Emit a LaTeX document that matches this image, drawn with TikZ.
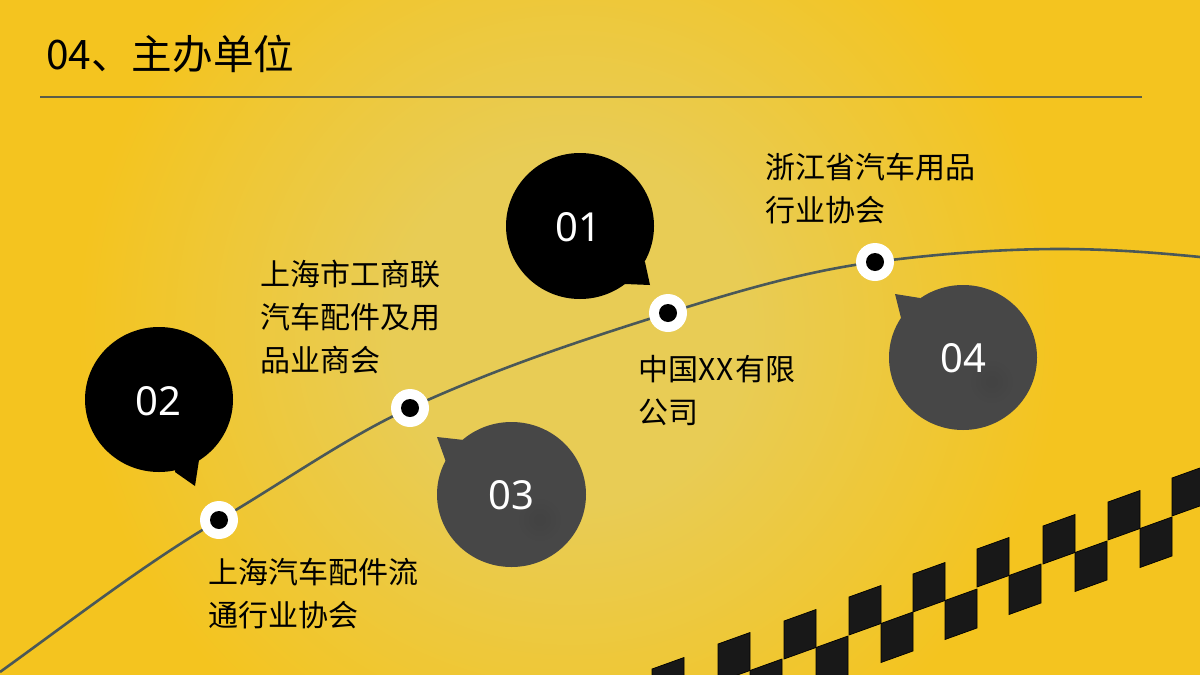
\documentclass[tikz,border=0pt]{standalone}
\usepackage{fontspec}
\setmainfont{Noto Sans CJK SC}
\newfontfamily\numfont{Noto Sans}
\definecolor{bgout}{HTML}{F4C41F}
\definecolor{bgin}{HTML}{E8CC55}
\definecolor{curvec}{HTML}{4A5858}
\definecolor{rulec}{HTML}{5A5C48}
\definecolor{greyb}{HTML}{474747}
\definecolor{checker}{HTML}{181818}
\tikzset{
  x=1pt,y=-1pt,
  dotw/.style={circle,fill=white,minimum size=38pt,inner sep=0pt},
  dotk/.style={circle,fill=black,minimum size=18pt,inner sep=0pt},
  lab/.style={anchor=north west,inner sep=0pt,align=left,text=black,font=\fontsize{30}{43}\selectfont},
  num/.style={text=white,inner sep=0pt,font=\numfont\fontsize{40}{46}\selectfont},
  chk/.style={fill=checker,draw=black,line width=0.7pt}
}
\begin{document}
\begin{tikzpicture}
\useasboundingbox (0,0) rectangle (1200,675);
\fill[bgout] (0,0) rectangle (1200,675);
\begin{scope}
\clip (0,0) rectangle (1200,675);
\foreach \i in {0,...,62}{
  \pgfmathsetmacro{\rr}{490-5*\i}
  \pgfmathsetmacro{\pp}{(\i+1)*100/63}
  \fill[bgin!\pp!bgout] (570,330) circle (\rr);
}
% checker band
\foreach \x/\y in {652/669,718/644,784/621,849/597,913/574,977/549,1043/526,1108/502,1172/478}{
  \fill[chk,draw] (\x,\y) -- ++(32,-11.5) -- ++(0,38) -- ++(-32,11.5) -- cycle;
  \fill[chk,draw] (\x+32,\y+26.5) -- ++(32,-11.5) -- ++(0,39) -- ++(-32,11.5) -- cycle;
}
\end{scope}
% title
\node[anchor=west,inner sep=0pt,font=\fontsize{40.6}{48}\selectfont] (title) at (46,54) {04、主办单位};
\coordinate (ruleL) at (40,97);
\coordinate (ruleR) at (1142,97);
\draw[rulec,line width=1.2pt] (ruleL) -- (ruleR);
% curve
\coordinate (c0) at (0,672);
\coordinate (c1) at (219,520);
\coordinate (c2) at (410,408);
\coordinate (c3) at (668,313);
\coordinate (c4) at (875,262);
\coordinate (c5) at (1060,249);
\coordinate (c6) at (1200,257);
\draw[curvec,line width=2.6pt] (c0)
  .. controls (73,619.4) and (146,562.8) .. (c1)
  .. controls (282.7,482.7) and (346.3,437.3) .. (c2)
  .. controls (496,368.4) and (582,340) .. (c3)
  .. controls (737,291.3) and (806,271) .. (c4)
  .. controls (936.7,254) and (998.3,249) .. (c5)
  .. controls (1106.7,249) and (1153.3,252.3) .. (c6);
% dots
\foreach \n/\p in {a/c1,b/c2,d/c3,e/c4}{
  \node[dotw] (w\n) at (\p) {};
  \node[dotk] (k\n) at (\p) {};
}
% bubbles
\fill[black] (580,226) ellipse [x radius=74,y radius=73];
\fill[black] (645,262) -- (650,285) -- (625,284) -- (600,270) -- cycle;
\node[num] (n1) at (578.5,227) {01};
\fill[black] (159,399.5) ellipse [x radius=74,y radius=72.5];
\fill[black] (175,472) -- (195,486) -- (199,460) -- (180,440) -- cycle;
\node[num] (n2) at (158.5,401) {02};
\fill[greyb] (511.5,494.5) ellipse [x radius=74.5,y radius=72.5];
\fill[greyb] (437,437) -- (464,440) -- (480,460) -- (446,462) -- cycle;
\foreach \r in {6,11,16,21}{\fill[black,opacity=0.008] (540,520) circle (\r);}
\node[num] (n3) at (511,495.5) {03};
\fill[greyb] (963,357.5) ellipse [x radius=74,y radius=72.5];
\fill[greyb] (895,294) -- (920,298) -- (930,320) -- (901,318) -- cycle;
\foreach \r in {6,11,16,21}{\fill[black,opacity=0.008] (992,382) circle (\r);}
\node[num] (n4) at (963.5,358) {04};
% labels
\node[lab] (t1) at (765,153) {浙江省汽车用品\\行业协会};
\node[lab] (t2) at (260,260) {上海市工商联\\汽车配件及用\\品业商会};
\node[lab] (t3) at (638,355) {中国X\kern1.5pt X\kern1.5pt 有限\\公司};
\node[lab] (t4) at (208,558) {上海汽车配件流\\通行业协会};
\end{tikzpicture}
\end{document}
